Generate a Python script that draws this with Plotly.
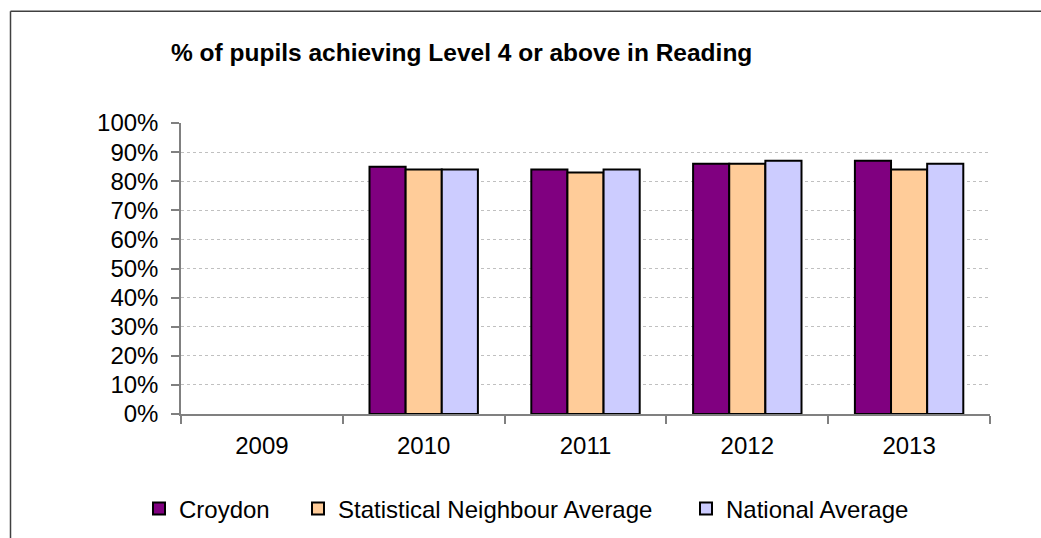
import plotly.graph_objects as go

years = ["2009", "2010", "2011", "2012", "2013"]
croydon = [None, 0.85, 0.84, 0.86, 0.87]
stat_neighbour = [None, 0.84, 0.83, 0.86, 0.84]
national = [None, 0.84, 0.84, 0.87, 0.86]
y_ticks = [i / 10 for i in range(11)]
y_tick_labels = [f"{i * 10}%" for i in range(11)]

W, H = 1041, 538
L, R, T, B = 181, 990, 123.3, 414.3
pw, ph = R - L, B - T

def px_x(x):
    return (x - L) / pw

def px_y(y):
    return (B - y) / ph

FONT = "Liberation Sans, Arial, sans-serif"

fig = go.Figure()
series = [
    ("Croydon", croydon, "#800080", "legend"),
    ("Statistical Neighbour Average", stat_neighbour, "#FFCC99", "legend2"),
    ("National Average", national, "#CCCCFF", "legend3"),
]
for name, vals, col, lg in series:
    fig.add_trace(go.Bar(
        x=years, y=vals, name=name, legend=lg,
        marker=dict(color=col, line=dict(color="#000000", width=2)),
        hoverinfo="skip",
    ))

legend_common = dict(orientation="h", yanchor="middle", xanchor="left",
                     xref="container", yref="container",
                     bgcolor="rgba(0,0,0,0)", borderwidth=0,
                     font=dict(family=FONT, size=24, color="#000000"),
                     itemwidth=30, tracegroupgap=0)
legend_x = [139, 298, 686]
ly = 1 - 509 / H
fig.update_layout(
    legend=dict(x=legend_x[0] / W, y=ly, **legend_common),
    legend2=dict(x=legend_x[1] / W, y=ly, **legend_common),
    legend3=dict(x=legend_x[2] / W, y=ly, **legend_common),
)

fig.update_layout(
    width=W, height=H, autosize=False,
    margin=dict(l=L, r=W - R, t=T, b=H - B, pad=0, autoexpand=False),
    paper_bgcolor="#ffffff", plot_bgcolor="#ffffff",
    barmode="group", bargap=0.33, bargroupgap=0,
    showlegend=True,
    title=dict(text="<b>% of pupils achieving Level 4 or above in Reading</b>",
               x=171 / W, xanchor="left", xref="container",
               y=1 - 52 / H, yanchor="middle", yref="container",
               font=dict(family=FONT, size=24.5, color="#000000")),
    font=dict(family=FONT, size=24, color="#000000"),
    xaxis=dict(type="category", categoryorder="array", categoryarray=years,
               showline=True, linecolor="#808080", linewidth=1.5,
               ticks="outside", tickson="boundaries", ticklen=8,
               tickcolor="#808080", tickwidth=1.5,
               tickfont=dict(family=FONT, size=24, color="#000000"),
               ticklabelstandoff=9, automargin=False,
               showgrid=False, zeroline=False, fixedrange=True),
    yaxis=dict(range=[0, 1], tickvals=y_ticks, ticktext=y_tick_labels,
               showline=True, linecolor="#808080", linewidth=1.5,
               ticks="outside", ticklen=8, tickcolor="#808080", tickwidth=1.5,
               tickfont=dict(family=FONT, size=24, color="#000000"),
               ticklabelstandoff=8, automargin=False,
               showgrid=True, gridcolor="#c0c0c0", griddash="dot", gridwidth=1,
               zeroline=False, fixedrange=True),
)

# outer chart border: only its top and left edges fall inside the window
border = dict(color="#404040", width=1.5)
fig.add_shape(type="line", xref="paper", yref="paper",
              x0=px_x(10.5), x1=px_x(W + 40), y0=px_y(11.5), y1=px_y(11.5),
              line=border, layer="below")
fig.add_shape(type="line", xref="paper", yref="paper",
              x0=px_x(10.5), x1=px_x(10.5), y0=px_y(11.5), y1=px_y(H + 40),
              line=border, layer="below")

fig.write_html("out.html", config={"displayModeBar": False},
               post_script="document.body.style.margin='0';"
                           "document.body.style.overflow='hidden';"
                           "document.documentElement.style.overflow='hidden';")
